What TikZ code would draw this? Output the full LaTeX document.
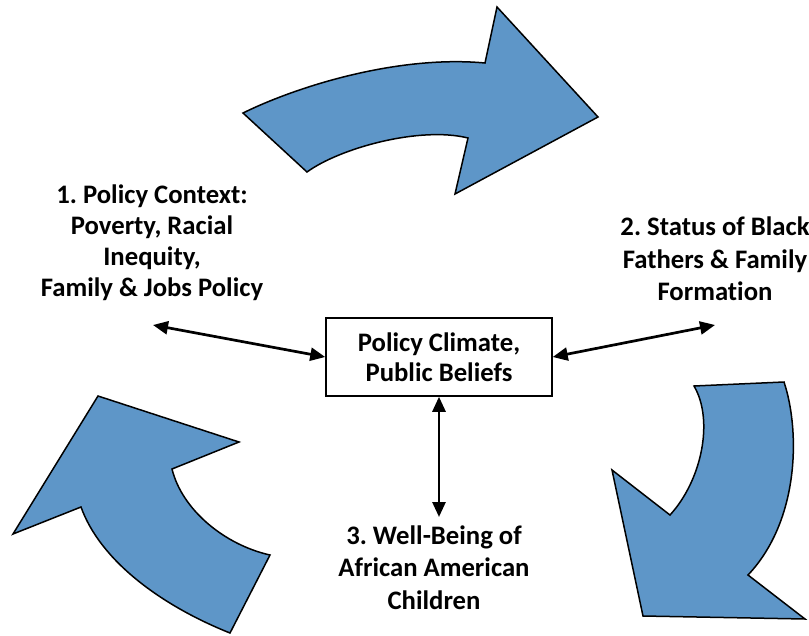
\documentclass[tikz,border=0pt]{standalone}
\usepackage{fontspec}
\setmainfont{Carlito}[Ligatures={NoCommon,NoDiscretionary}]
\usetikzlibrary{arrows.meta}
\frenchspacing
\definecolor{arrowblue}{RGB}{94,150,200}
\tikzset{
  bigarrow/.style={fill=arrowblue,draw=black,line width=1.5pt,line join=miter},
  lbl/.style={anchor=base,inner sep=0pt,font=\fontsize{26.7}{32.5}\selectfont\bfseries},
  centerbox/.style={draw=black,line width=1.5pt,minimum width=226pt,minimum height=78pt,inner sep=0pt,align=center,font=\fontsize{26.7}{30}\selectfont\bfseries},
  link/.style={line width=2.7pt,{Triangle[length=15pt,width=13pt]}-{Triangle[length=15pt,width=13pt]}}
}
\begin{document}
\begin{tikzpicture}[x=1pt,y=-1pt]
\useasboundingbox (0,0) rectangle (809,635);
% top curved arrow
\draw[bigarrow] (243,113) .. controls (300,85) and (400,55) .. (485,63)
  -- (497,7) -- (598,117) -- (455,194) -- (468,138)
  .. controls (420,126) and (340,148) .. (307,172) -- cycle;
% right curved arrow
\draw[bigarrow] (694,386) -- (784,382) .. controls (800,430) and (800,520) .. (748,575)
  -- (805,619) -- (643,616) -- (612,470) -- (670,515)
  .. controls (702,480) and (714,420) .. (694,386) -- cycle;
% left curved arrow
\draw[bigarrow] (98,396) -- (239,442) -- (172,469)
  .. controls (182,510) and (225,545) .. (270,555)
  -- (230,633) .. controls (160,605) and (100,560) .. (81,507)
  -- (13,534) -- cycle;
% centre box
\node[centerbox] (climate) at (439,357) {Policy Climate,\\Public Beliefs};
% labels
\node[lbl] (t1a) at (152,203) {1. Policy Context:};
\node[lbl] (t1b) at (152,234) {Poverty, Racial};
\node[lbl] (t1c) at (152,265) {Inequity,};
\node[lbl] (t1d) at (152,296) {Family \& Jobs Policy};
\node[lbl] (t2a) at (715,235) {2. Status of Black};
\node[lbl] (t2b) at (715,268) {Fathers \& Family};
\node[lbl] (t2c) at (715,300) {Formation};
\node[lbl] (t3a) at (434,544) {3. Well-Being of};
\node[lbl] (t3b) at (434,576) {African American};
\node[lbl] (t3c) at (434,609) {Children};
% connector ends
\coordinate (e1) at (153,325);
\coordinate (e2) at (715,325);
\coordinate (e3) at (439,517);
\draw[link] (e1) -- (climate.west);
\draw[link] (climate.east) -- (e2);
\draw[link] (climate.south) -- (e3);
\end{tikzpicture}
\end{document}
